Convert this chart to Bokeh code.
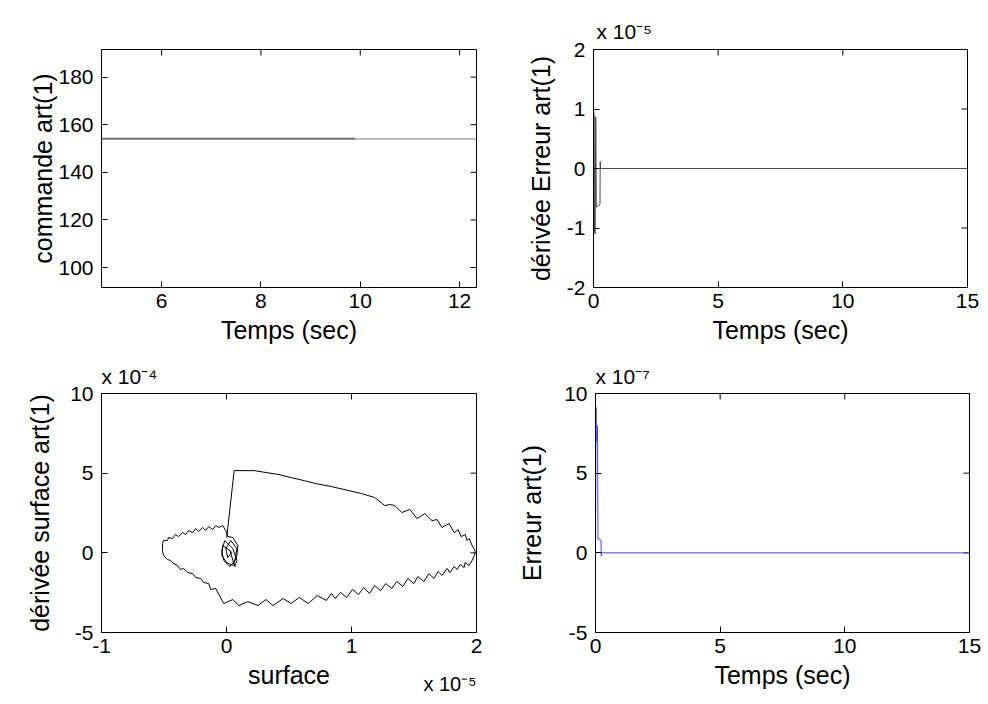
import math
from bokeh.plotting import figure
from bokeh.layouts import row, column
from bokeh.models import FixedTicker, Range1d, Title
from bokeh.embed import file_html
from bokeh.resources import INLINE

FONT = "Liberation Sans"
TICK_FS = "21px"
LAB_FS = "25px"
EXP_FS = "21px"

# ---------------- data ----------------
# top-left: commande art(1) vs Temps
cmd_t_a = [0.0, 9.9]
cmd_v_a = [154.1, 154.1]
cmd_t_b = [9.9, 15.0]
cmd_v_b = [154.0, 154.0]

# top-right: dérivée Erreur art(1) (x 1e-5) vs Temps
derr_t = [0.0, 0.03, 0.04, 0.07, 0.09, 0.11, 0.26, 0.27, 0.28, 0.30, 15.0]
derr_v = [1.0, 0.87, -1.05, -1.1, 0.87, -0.65, -0.6, 0.12, 0.0, 0.0, 0.0]

# bottom-left: phase plane, surface (x 1e-5) vs dérivée surface (x 1e-4)
surf_s = [0.002, 0.061, 0.222, 0.316, 0.421, 0.517, 0.622, 0.718, 0.839, 1.080, 1.185,
          1.266, 1.306, 1.346, 1.402, 1.467, 1.523, 1.587, 1.644, 1.684, 1.724, 1.780,
          1.821, 1.853, 1.877, 1.909, 1.925, 1.941, 1.965, 1.989, 1.989,
          1.965, 1.941, 1.909, 1.901, 1.869, 1.845, 1.821, 1.788, 1.764, 1.724, 1.692,
          1.660, 1.619, 1.579, 1.531, 1.499, 1.451, 1.410, 1.362, 1.322, 1.274, 1.233,
          1.185, 1.145, 1.097, 1.056, 1.008, 0.960, 0.912, 0.871, 0.839,
          0.799, 0.726, 0.654, 0.582, 0.517, 0.453, 0.372, 0.316, 0.252, 0.171, 0.099,
          0.051, -0.022, -0.086, -0.127,
          -0.142, -0.183, -0.207, -0.247, -0.271, -0.311, -0.344, -0.368, -0.392, -0.424,
          -0.448, -0.472, -0.504, -0.512, -0.512, -0.504, -0.472, -0.464, -0.432, -0.408,
          -0.384, -0.352, -0.327, -0.303, -0.271, -0.247, -0.223, -0.191, -0.167, -0.142,
          -0.110, -0.086, -0.062, -0.030, -0.006, 0.010,
          0.051, 0.091, 0.083, 0.051, 0.002, -0.038, -0.030, 0.027, 0.067, 0.083, 0.051,
          -0.014, -0.038, -0.022, 0.027, 0.067, 0.083, 0.035, -0.006, 0.010, 0.043, 0.027]
surf_ds = [0.96, 5.16, 5.16, 5.04, 4.91, 4.72, 4.53, 4.34, 4.16, 3.72, 3.47,
           2.97, 3.03, 2.97, 2.53, 2.72, 2.15, 2.46, 2.02, 2.09, 1.59, 1.84,
           1.27, 1.46, 1.02, 1.15, 0.77, 0.90, 0.46, 0.14, -0.04,
           -0.48, -0.80, -0.61, -0.92, -0.73, -1.05, -0.86, -1.24, -0.98, -1.42, -1.17,
           -1.61, -1.30, -1.80, -1.49, -1.93, -1.61, -2.11, -1.80, -2.24, -1.93, -2.37,
           -2.05, -2.55, -2.18, -2.62, -2.30, -2.80, -2.49, -2.87, -2.55,
           -2.99, -2.68, -3.18, -2.80, -3.18, -2.87, -3.31, -2.93, -3.31, -3.06, -3.31,
           -2.93, -3.18, -2.24, -2.30,
           -1.93, -1.86, -1.61, -1.55, -1.30, -1.24, -0.98, -1.05, -0.80, -0.67,
           -0.48, -0.42, -0.17, 0.14, 0.58, 0.77, 0.77, 0.96, 0.90, 1.15,
           1.02, 1.27, 1.15, 1.40, 1.27, 1.52, 1.34, 1.59, 1.40, 1.65,
           1.46, 1.71, 1.59, 1.71, 1.40, 1.02,
           0.96, 0.46, -0.17, -0.80, -0.61, -0.17, 0.46, 0.14, -0.86, -0.48, 0.27,
           0.77, 0.14, -0.48, -0.86, -0.48, 0.27, 0.77, 0.27, -0.29, 0.02, 0.14]

# bottom-right: Erreur art(1) (x 1e-7) vs Temps
err_t = [0.0, 0.02, 0.03, 0.05, 0.07, 0.08, 0.10, 0.22, 0.23, 0.26, 15.0]
err_v = [0.0, 9.15, 7.0, 7.0, 8.0, 7.9, 0.86, 0.8, -0.2, 0.0, 0.0]

# ticks
tl_xt = [6, 8, 10, 12]
tl_yt = [100, 120, 140, 160, 180]
tr_xt = [0, 5, 10, 15]
tr_yt = [-2, -1, 0, 1, 2]
bl_xt = [-1, 0, 1, 2]
bl_yt = [-5, 0, 5, 10]
br_xt = [0, 5, 10, 15]
br_yt = [-5, 0, 5, 10]


def style_axis(ax, ticks, label):
    ax.ticker = FixedTicker(ticks=ticks)
    ax.major_label_overrides = {t: str(t) for t in ticks}
    ax.major_tick_in = 6
    ax.major_tick_out = 0
    ax.minor_tick_line_color = None
    ax.axis_line_color = "black"
    ax.major_tick_line_color = "black"
    ax.major_label_text_font = FONT
    ax.major_label_text_font_size = TICK_FS
    ax.major_label_text_color = "black"
    ax.axis_label = label
    ax.axis_label_text_font = FONT
    ax.axis_label_text_font_size = LAB_FS
    ax.axis_label_text_font_style = "normal"
    ax.axis_label_text_color = "black"


def make_fig(xr, yr, xt, yt, xlabel, ylabel, ylab_standoff, bl, br, bt, bb, fw, fh):
    p = figure(frame_width=fw, frame_height=fh,
               x_range=Range1d(*xr), y_range=Range1d(*yr),
               output_backend="svg", toolbar_location=None,
               min_border_left=bl, min_border_right=br,
               min_border_top=bt, min_border_bottom=bb)
    p.xgrid.visible = False
    p.ygrid.visible = False
    p.outline_line_color = "black"
    p.outline_line_width = 1
    style_axis(p.xaxis[0], xt, xlabel)
    style_axis(p.yaxis[0], yt, ylabel)
    p.xaxis[0].major_label_standoff = 6
    p.xaxis[0].axis_label_standoff = 5
    p.yaxis[0].major_label_standoff = 8
    p.yaxis[0].axis_label_standoff = ylab_standoff
    # mirrored inward ticks on top and right edges (box on)
    p.ray(x=xt, y=[yr[1]] * len(xt), length=6, length_units="screen",
          angle=-math.pi / 2, line_color="black", line_width=1)
    p.ray(x=[xr[1]] * len(yt), y=yt, length=6, length_units="screen",
          angle=math.pi, line_color="black", line_width=1)
    return p


def exp_title(p, text, place, align, offset, standoff, valign="bottom", fs=EXP_FS):
    t = Title(text=text, align=align, offset=offset, standoff=standoff,
              vertical_align=valign,
              text_font=FONT, text_font_size=fs, text_font_style="normal",
              text_color="black")
    p.add_layout(t, place)


# top-left
p1 = make_fig((4.79, 12.34), (91.6, 191.6), tl_xt, tl_yt, "Temps (sec)", "commande art(1)", -2,
              101, 39, 49, 62, 375, 238)
p1.line(cmd_t_a, cmd_v_a, line_color="#6e6e6e", line_width=2)
p1.line(cmd_t_b, cmd_v_b, line_color="#7a7a7a", line_width=1)

# top-right
p2 = make_fig((0, 15), (-2, 2), tr_xt, tr_yt, "Temps (sec)", "dérivée Erreur art(1)", 9,
              78, 13, 49, 62, 374, 238)
p2.line(derr_t, derr_v, line_color="#4a4a4a", line_width=1)
exp_title(p2, "x 10\u207b\u2075", "above", "left", 3, 13)

# bottom-left
p3 = make_fig((-1, 2), (-5, 10), bl_xt, bl_yt, "surface", "dérivée surface art(1)", 13,
              101, 39, 44, 70, 375, 239)
p3.line(surf_s, surf_ds, line_color="black", line_width=1)
exp_title(p3, "x 10\u207b\u2074", "above", "left", 0, 11)
exp_title(p3, "x 10\u207b\u2075", "below", "right", 0, -38, valign="top", fs="20px")

# bottom-right
p4 = make_fig((0, 15), (-5, 10), br_xt, br_yt, "Temps (sec)", "Erreur art(1)", 15,
              78, 13, 44, 70, 374, 239)
p4.line(err_t, err_v, line_color="#4545ff", line_width=1)
exp_title(p4, "x 10\u207b\u2077", "above", "left", 0, 11)

layout = column(row(p1, p2), row(p3, p4))
open("out.html", "w").write(file_html(layout, INLINE))
